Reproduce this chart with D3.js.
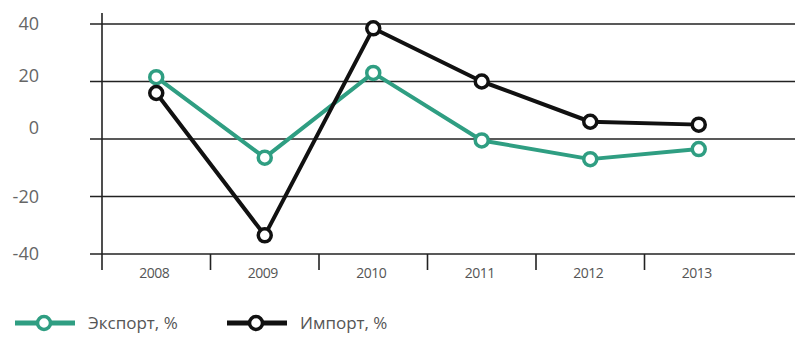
<!DOCTYPE html>
<html>
<head>
<meta charset="utf-8">
<script src="https://cdn.jsdelivr.net/npm/d3@7"></script>
<style>
  html, body { margin: 0; padding: 0; background: #fff; }
  svg { display: block; font-family: "Open Sans", Roboto, sans-serif; }
</style>
</head>
<body>
<svg id="chart" width="795" height="337"></svg>
<script>
// Annual change in foreign trade, %
const years = ["2008", "2009", "2010", "2011", "2012", "2013"];
const exportPct = [21.5, -6.5, 23, -0.5, -7, -3.5];
const importPct = [16, -33.5, 38.5, 20, 6, 5];
const yTicks = [-40, -20, 0, 20, 40];
const seriesNames = ["Экспорт, %", "Импорт, %"];

const GREEN = "#2f9e82";
const BLACK = "#111";

const svg = d3.select("#chart");

const x = d3.scaleBand().domain(years).range([102, 753]);
const y = d3.scaleLinear().domain([-40, 40]).range([254, 24]);

// horizontal grid, the bottom one doubles as the category axis
svg.append("g")
  .selectAll("line")
  .data(yTicks)
  .join("line")
  .attr("x1", 90).attr("x2", 795)
  .attr("y1", d => y(d)).attr("y2", d => y(d))
  .attr("stroke", "#222").attr("stroke-width", 1.6);

// y labels
svg.append("g")
  .selectAll("text")
  .data(yTicks)
  .join("text")
  .attr("x", 39)
  .attr("y", d => y(d))
  .attr("dy", d => d === 0 ? "-0.3em" : (d === 20 ? "0.05em" : "0.35em"))
  .attr("text-anchor", "end")
  .attr("font-size", 18)
  .attr("fill", "#666")
  .text(d => d);

// vertical axis line
svg.append("line")
  .attr("x1", x.range()[0]).attr("x2", x.range()[0])
  .attr("y1", 13).attr("y2", y(-40) + 16)
  .attr("stroke", "#222").attr("stroke-width", 1.6);

// category separators below the axis
svg.append("g")
  .selectAll("line")
  .data(years.slice(1))
  .join("line")
  .attr("x1", d => x(d)).attr("x2", d => x(d))
  .attr("y1", y(-40)).attr("y2", y(-40) + 16)
  .attr("stroke", "#222").attr("stroke-width", 1.6);

// year labels
svg.append("g")
  .selectAll("text")
  .data(years)
  .join("text")
  .attr("x", d => x(d) + x.bandwidth() / 2 - 2)
  .attr("y", y(-40) + 19)
  .attr("dy", "0.35em")
  .attr("text-anchor", "middle")
  .attr("font-size", 14)
  .attr("fill", "#555")
  .attr("letter-spacing", -0.5)
  .text(d => d);

const cx = d => x(d) + x.bandwidth() / 2;
const line = d3.line().x((d, i) => cx(years[i])).y(d => y(d));

function drawSeries(values, color) {
  const g = svg.append("g");
  g.append("path")
    .datum(values)
    .attr("d", line)
    .attr("fill", "none")
    .attr("stroke", color)
    .attr("stroke-width", 4)
    .attr("stroke-linejoin", "round");
  g.selectAll("circle")
    .data(values)
    .join("circle")
    .attr("cx", (d, i) => cx(years[i]))
    .attr("cy", d => y(d))
    .attr("r", 6.5)
    .attr("fill", "#fff")
    .attr("stroke", color)
    .attr("stroke-width", 3.5);
}

drawSeries(exportPct, GREEN);
drawSeries(importPct, BLACK);

// legend
const legend = [
  { name: seriesNames[0], color: GREEN, x0: 15 },
  { name: seriesNames[1], color: BLACK, x0: 227 }
];
const ly = 323;
const lg = svg.append("g").selectAll("g").data(legend).join("g");
lg.append("line")
  .attr("x1", d => d.x0).attr("x2", d => d.x0 + 60)
  .attr("y1", ly).attr("y2", ly)
  .attr("stroke", d => d.color).attr("stroke-width", 5);
lg.append("circle")
  .attr("cx", d => d.x0 + 29).attr("cy", ly)
  .attr("r", 6.5)
  .attr("fill", "#fff")
  .attr("stroke", d => d.color).attr("stroke-width", 3.5);
lg.append("text")
  .attr("x", d => d.x0 + 73)
  .attr("y", ly)
  .attr("dy", "0.35em")
  .attr("font-size", 17)
  .attr("fill", "#555")
  .text(d => d.name);
</script>
</body>
</html>
